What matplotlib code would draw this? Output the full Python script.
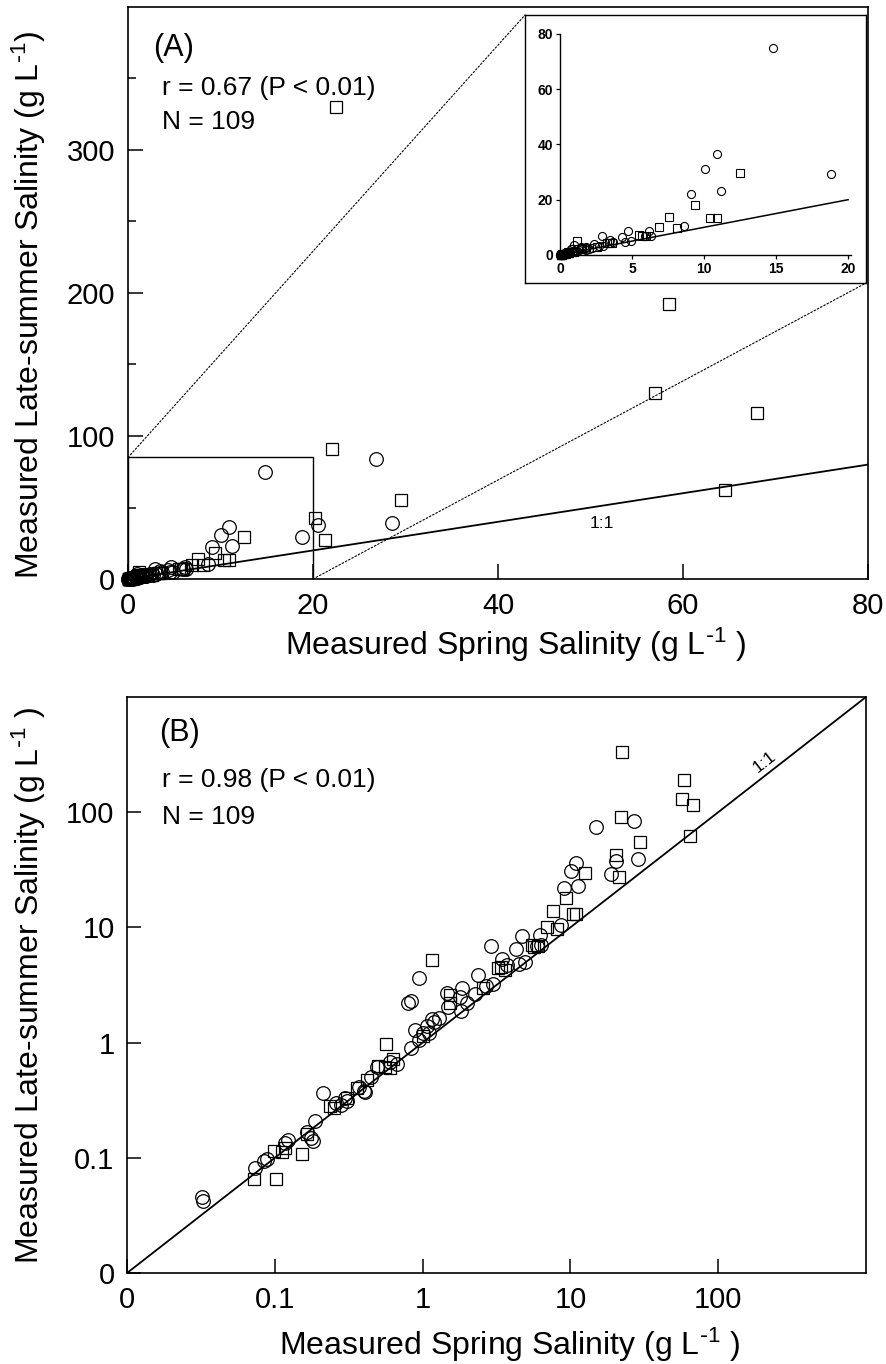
import matplotlib
matplotlib.use("Agg")
import matplotlib.pyplot as plt
from matplotlib.patches import Rectangle, ConnectionPatch

plt.rcParams.update({
    "font.family": ["Liberation Sans", "DejaVu Sans"],
    "mathtext.default": "regular",
})

# Spring vs late-summer salinity (g/L).
SQ_SPRING = [22.5, 58.5, 57, 68, 64.5, 22, 29.5, 20.2, 21.3, 12.5, 9.4, 7.6, 10.4, 10.9,
             6.9, 8.1, 5.5, 5.7, 3.25, 3.4, 1.15, 2.58, 1.53, 1.53, 1.0, 0.565, 0.63,
             0.56, 0.5, 0.42, 0.31, 0.25, 0.235, 0.165, 0.152, 0.098, 0.112, 0.072,
             0.102, 3.6, 0.6, 0.36, 0.118, 6.0]
SQ_SUMMER = [330, 192, 130, 116, 62, 91, 55, 42.5, 27.5, 29.5, 17.9, 13.8, 13.2, 13.2,
             10.1, 9.7, 7.1, 6.8, 4.4, 4.5, 5.2, 2.98, 2.6, 2.2, 1.15, 0.97, 0.72,
             0.62, 0.63, 0.47, 0.33, 0.27, 0.28, 0.16, 0.107, 0.115, 0.112, 0.066,
             0.065, 4.3, 0.6, 0.4, 0.122, 6.9]
CI_SPRING = [14.8, 26.8, 28.5, 20.5, 18.8, 10.9, 10.1, 11.2, 9.1, 8.6, 6.2, 4.7, 2.9, 4.3,
             4.9, 3.45, 3.7, 5.9, 0.94, 0.8, 0.84, 2.36, 1.84, 1.8, 2.25, 1.47, 1.49,
             1.82, 1.15, 1.3, 1.2, 1.07, 0.89, 1.01, 0.84, 0.67, 0.49, 0.40, 0.37, 0.41,
             0.211, 0.26, 0.30, 0.31, 0.187, 0.164, 0.175, 0.18, 0.123, 0.117, 0.084,
             0.088, 0.073, 0.032, 0.0325, 2.0, 2.7, 3.0, 0.6, 0.45, 0.28, 1.1, 0.95,
             4.5, 6.3]
CI_SUMMER = [75, 84, 39, 38, 29.3, 36.5, 31, 23, 22.2, 10.5, 8.6, 8.5, 6.9, 6.5,
             5.0, 5.3, 4.7, 6.9, 3.65, 2.2, 2.3, 3.85, 2.95, 2.5, 2.65, 2.7, 2.05,
             1.88, 1.59, 1.64, 1.5, 1.4, 1.28, 1.22, 0.9, 0.65, 0.61, 0.38, 0.41, 0.37,
             0.365, 0.30, 0.33, 0.31, 0.21, 0.166, 0.148, 0.141, 0.144, 0.135, 0.094,
             0.098, 0.081, 0.046, 0.042, 2.2, 3.1, 3.2, 0.68, 0.5, 0.29, 1.2, 1.05,
             4.8, 7.0]

A_XTICKS = [0, 20, 40, 60, 80]
A_YTICKS = [0, 100, 200, 300]
A_YMINOR = [50, 150, 250, 350]
ZOOM_BOX = (20, 85)          # region of panel A blown up in the inset
INSET_XTICKS = [0, 5, 10, 15, 20]
INSET_YTICKS = [0, 20, 40, 60, 80]
B_TICKS = [0.01, 0.1, 1, 10, 100]
B_TICKLABELS = ["0", "0.1", "1", "10", "100"]
ONE_TO_ONE_LIN = [0, 80]
ONE_TO_ONE_LOG = [0.01, 1000]

TICK_FS = 21
LABEL_FS = 23
NOTE_FS = 19
PANEL_FS = 22
UNIT = r"(g L$^{\text{-}1}$ )"


def scatter_groups(ax, ms_circle, ms_square, mew, clip=True, xmax=None, ymax=None):
    groups = ((CI_SPRING, CI_SUMMER, "o", ms_circle), (SQ_SPRING, SQ_SUMMER, "s", ms_square))
    for xs, ys, marker, ms in groups:
        pts = [(x, y) for x, y in zip(xs, ys)
               if (xmax is None or x <= xmax) and (ymax is None or y <= ymax)]
        ax.plot([p[0] for p in pts], [p[1] for p in pts], marker, ms=ms, mfc="none",
                mec="black", mew=mew, clip_on=clip, zorder=3)


def style_main(ax):
    for spine in ax.spines.values():
        spine.set_linewidth(1.2)
    ax.tick_params(which="major", direction="in", length=11, width=1.1,
                   labelsize=TICK_FS, pad=9)
    ax.tick_params(which="minor", direction="in", length=5.5, width=1.1)


fig = plt.figure(figsize=(8.87, 13.64), dpi=100)

# ---------------- panel A ----------------
axA = fig.add_axes([0.1443, 0.5755, 0.8343, 0.4194])
scatter_groups(axA, 9.8, 9.2, 0.9, clip=False)
axA.plot(ONE_TO_ONE_LIN, ONE_TO_ONE_LIN, color="black", lw=1.3, zorder=2)
axA.add_patch(Rectangle((0, 0), ZOOM_BOX[0], ZOOM_BOX[1], fill=False, lw=1.0,
                        ec="black", zorder=2))
axA.set_xlim(0, 80)
axA.set_ylim(0, 400)
axA.set_xticks(A_XTICKS)
axA.set_yticks(A_YTICKS)
axA.set_yticks(A_YMINOR, minor=True)
style_main(axA)
axA.text(51.2, 38.5, "1:1", fontsize=12.5, ha="center", va="center")
axA.text(0.034, 0.929, "(A)", transform=axA.transAxes, fontsize=PANEL_FS, va="center")
axA.text(0.046, 0.858, "r = 0.67 (P < 0.01)", transform=axA.transAxes,
         fontsize=NOTE_FS, va="center")
axA.text(0.046, 0.799, "N = 109", transform=axA.transAxes, fontsize=NOTE_FS, va="center")
axA.set_xlabel("Measured Spring Salinity " + UNIT, fontsize=LABEL_FS, va="center")
axA.xaxis.set_label_coords(0.524, -0.115)
axA.set_ylabel(r"Measured Late-summer Salinity (g L$^{\text{-}1}$)", fontsize=LABEL_FS,
               va="center")
axA.yaxis.set_label_coords(-0.134, 0.48)

# inset frame + inner axes
frame = fig.add_axes([0.5919, 0.7925, 0.3844, 0.1965])
frame.set_xticks([])
frame.set_yticks([])
for spine in frame.spines.values():
    spine.set_linewidth(1.0)

axI = fig.add_axes([0.6313, 0.8131, 0.3281, 0.162])
axI.set_facecolor("none")
scatter_groups(axI, 5.8, 5.4, 0.8, clip=False, xmax=20, ymax=80)
axI.plot([0, 20], [0, 20], color="black", lw=1.1, zorder=2)
axI.set_xlim(0, 20.2)
axI.set_ylim(0, 80)
axI.spines["top"].set_visible(False)
axI.spines["right"].set_visible(False)
for side in ("left", "bottom"):
    axI.spines[side].set_linewidth(1.0)
axI.set_xticks(INSET_XTICKS)
axI.set_yticks(INSET_YTICKS)
axI.tick_params(direction="out", length=3, width=0.9, labelsize=10, pad=2)
for lab in axI.get_xticklabels() + axI.get_yticklabels():
    lab.set_fontweight("bold")

for xyA, xyB in (((0, ZOOM_BOX[1]), (0, 1)), ((ZOOM_BOX[0], 0), (1, 0))):
    con = ConnectionPatch(xyA=xyA, coordsA=axA.transData, xyB=xyB,
                          coordsB=frame.transAxes, color="black", lw=0.8,
                          linestyle=(0, (1.5, 1.8)))
    fig.add_artist(con)

# ---------------- panel B ----------------
axB = fig.add_axes([0.1432, 0.0667, 0.8331, 0.4223])
scatter_groups(axB, 9.8, 9.2, 0.9)
axB.plot(ONE_TO_ONE_LOG, ONE_TO_ONE_LOG, color="black", lw=1.3, zorder=2)
axB.set_xscale("log")
axB.set_yscale("log")
axB.set_xlim(0.01, 1000)
axB.set_ylim(0.01, 1000)
axB.set_xticks(B_TICKS)
axB.set_xticklabels(B_TICKLABELS)
axB.set_yticks(B_TICKS)
axB.set_yticklabels(B_TICKLABELS)
axB.minorticks_off()
style_main(axB)
axB.tick_params(which="major", length=10)
axB.text(207, 272, "1:1", fontsize=12.5, ha="center", va="center", rotation=38)
axB.text(0.043, 0.9375, "(B)", transform=axB.transAxes, fontsize=PANEL_FS, va="center")
axB.text(0.047, 0.856, "r = 0.98 (P < 0.01)", transform=axB.transAxes,
         fontsize=NOTE_FS, va="center")
axB.text(0.047, 0.792, "N = 109", transform=axB.transAxes, fontsize=NOTE_FS, va="center")
axB.set_xlabel("Measured Spring Salinity " + UNIT, fontsize=LABEL_FS, va="center")
axB.xaxis.set_label_coords(0.517, -0.125)
axB.set_ylabel("Measured Late-summer Salinity " + UNIT, fontsize=LABEL_FS, va="center")
axB.yaxis.set_label_coords(-0.133, 0.5)

fig.savefig("out.png", dpi=100)
